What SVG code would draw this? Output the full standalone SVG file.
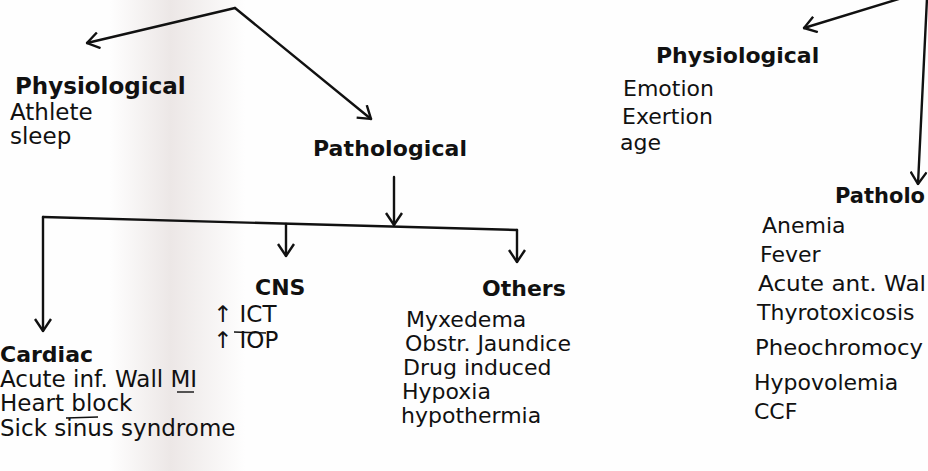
<svg xmlns="http://www.w3.org/2000/svg" width="928" height="471" viewBox="0 0 928 471">
<style>
text{font-family:"DejaVu Sans",Verdana,sans-serif;fill:#111;}
.h{font-weight:bold;font-size:22px;}
.t{font-size:22px;}
.l{font-size:23px;}
.c{fill:none;stroke:#111;stroke-width:2.4;stroke-linecap:round;stroke-linejoin:round;}
.m{fill:none;stroke:#111;stroke-width:1.4;}
</style>
<defs>
<marker id="ah" viewBox="0 0 14 18" refX="13" refY="9" markerWidth="14" markerHeight="18" markerUnits="userSpaceOnUse" orient="auto"><path d="M1,1 L13,9 L1,17" fill="none" stroke="#111" stroke-width="2.4" stroke-linejoin="miter"/></marker>
<linearGradient id="shade" x1="0" x2="1" y1="0" y2="0">
<stop offset="0" stop-color="#e9e3e2" stop-opacity="0"/>
<stop offset="0.45" stop-color="#e9e3e2" stop-opacity="0.85"/>
<stop offset="1" stop-color="#e9e3e2" stop-opacity="0"/>
</linearGradient>
</defs>
<rect width="928" height="471" fill="#fefefe"/>
<rect x="110" y="0" width="135" height="471" fill="url(#shade)"/>
<g id="connectors">
<path class="c" d="M235,8 L87,43" marker-end="url(#ah)"/>
<path class="c" d="M235,8 L371,119" marker-end="url(#ah)"/>
<path class="c" d="M394,177 L394,225" marker-end="url(#ah)"/>
<path class="c" d="M43,217 L517,230"/>
<path class="c" d="M43,217 L43,331" marker-end="url(#ah)"/>
<path class="c" d="M286,224 L286,256" marker-end="url(#ah)"/>
<path class="c" d="M517,230 L517,262" marker-end="url(#ah)"/>
<path class="c" d="M902,-2 L804,28" marker-end="url(#ah)"/>
<path class="c" d="M927,-2 L918,184" marker-end="url(#ah)"/>
</g>
<g id="physiological-left">
<text class="h" x="15" y="94" style="font-size:23px">Physiological</text>
<text class="l" x="10" y="120">Athlete</text>
<text class="l" x="10" y="144">sleep</text>
</g>
<g id="pathological-left">
<text class="h" x="313" y="156" textLength="154">Pathological</text>
</g>
<g id="cardiac">
<text class="h" x="0" y="362">Cardiac</text>
<text class="l" x="0" y="387">Acute inf. Wall MI</text>
<text class="l" x="0" y="411">Heart block</text>
<text class="l" x="0" y="436">Sick sinus syndrome</text>
<path class="m" d="M177,392 L194,392"/>
<path class="m" d="M66,418 L98,417"/>
</g>
<g id="cns">
<text class="h" x="255" y="295">CNS</text>
<text class="l" x="213" y="322">↑ ICT</text>
<text class="l" x="213" y="348">↑ IOP</text>
<path class="m" d="M234,332 L266,333"/>
</g>
<g id="others">
<text class="h" x="482" y="296">Others</text>
<text class="t" x="406" y="327">Myxedema</text>
<text class="t" x="405" y="351">Obstr. Jaundice</text>
<text class="t" x="403" y="375">Drug induced</text>
<text class="t" x="402" y="399">Hypoxia</text>
<text class="t" x="401" y="423">hypothermia</text>
</g>
<g id="physiological-right">
<text class="h" x="656" y="63">Physiological</text>
<text class="t" x="623" y="96">Emotion</text>
<text class="t" x="622" y="124">Exertion</text>
<text class="t" x="620" y="150">age</text>
</g>
<g id="pathological-right">
<text class="h" x="835" y="203" textLength="90" lengthAdjust="spacingAndGlyphs">Patholo</text>
<text class="t" x="762" y="233">Anemia</text>
<text class="t" x="760" y="262">Fever</text>
<text class="t" x="758" y="291" textLength="168" lengthAdjust="spacingAndGlyphs">Acute ant. Wal</text>
<text class="t" x="757" y="320">Thyrotoxicosis</text>
<text class="t" x="755" y="355" textLength="168" lengthAdjust="spacingAndGlyphs">Pheochromocy</text>
<text class="t" x="754" y="390">Hypovolemia</text>
<text class="t" x="754" y="419">CCF</text>
</g>
</svg>
